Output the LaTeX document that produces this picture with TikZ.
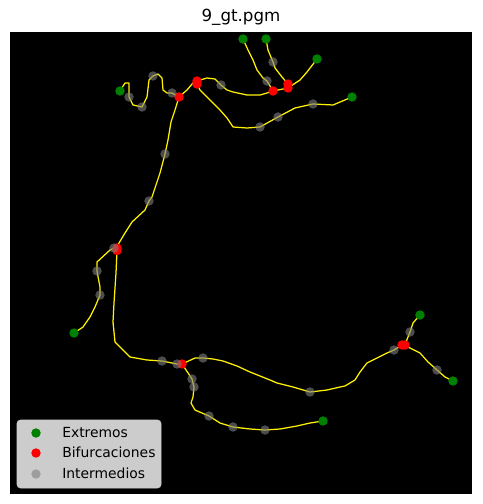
\documentclass[tikz,border=0pt]{standalone}
\usepackage{fontspec}
\setmainfont{DejaVu Sans}
\usepackage{tikz}

\definecolor{extcol}{HTML}{008000}
\definecolor{legbg}{HTML}{CCCCCC}

\tikzset{
    skel/.style={yellow, line width=0.9pt, line join=round},
    extremo/.style={circle, fill=extcol, inner sep=0pt, minimum size=6.8pt},
    bifur/.style={circle, fill=red, inner sep=0pt, minimum size=6.8pt},
    interm/.style={circle, fill=gray, fill opacity=0.6, inner sep=0pt, minimum size=6.8pt},
    legtext/.style={anchor=base west, inner sep=0pt, font=\fontsize{10}{12}\selectfont}
}

\begin{document}
\begin{tikzpicture}[x=0.72pt, y=-0.72pt]
        \useasboundingbox (0,0) rectangle (482,504);
        \fill[white] (0,0) rectangle (482,504);
        \fill[black] (10,32) rectangle (472,494);
        \node[anchor=base, inner sep=0pt, font=\fontsize{12}{14}\selectfont] (title) at (241,22) {9\_gt.pgm};

        % puntos extremos
        \coordinate (e1) at (243,39);  \coordinate (e2) at (266,39);
        \coordinate (e3) at (317,59);  \coordinate (e4) at (352,97);
        \coordinate (e5) at (120,91);  \coordinate (e6) at (74,333);
        \coordinate (e7) at (420,315); \coordinate (e8) at (453,381);
        \coordinate (e9) at (323,421);
        % bifurcaciones
        \coordinate (b1a) at (197,81);  \coordinate (b1b) at (197,84);
        \coordinate (b2) at (179,97);   \coordinate (b3) at (273,91);
        \coordinate (b4a) at (288,84);  \coordinate (b4b) at (288,88);
        \coordinate (b5a) at (117,248); \coordinate (b5b) at (117,250.5);
        \coordinate (b6) at (182,364);
        \coordinate (b7a) at (402,345); \coordinate (b7b) at (405,345);
        % intermedios
        \coordinate (g1) at (129,97);   \coordinate (g2) at (142,107);
        \coordinate (g3) at (153,76);   \coordinate (g4) at (172,93);
        \coordinate (g5) at (221,85);   \coordinate (g6) at (273,62);
        \coordinate (g7) at (267,81);   \coordinate (g8) at (313,104);
        \coordinate (g9) at (278,117);  \coordinate (g10) at (260,127);
        \coordinate (g11) at (165,154); \coordinate (g12) at (149,201);
        \coordinate (g13) at (114,248); \coordinate (g14) at (97,271);
        \coordinate (g15) at (100,295); \coordinate (g16) at (162,361);
        \coordinate (g17) at (177,364); \coordinate (g18) at (203,358);
        \coordinate (g19) at (192,379); \coordinate (g20) at (194,387);
        \coordinate (g21) at (209,416); \coordinate (g22) at (233,427);
        \coordinate (g23) at (265,430); \coordinate (g24) at (310,392);
        \coordinate (g25) at (394,350); \coordinate (g26) at (410,332);
        \coordinate (g27) at (437,370);

        % esqueleto
        \draw[skel] (e5) -- (125,83) -- (129,83) -- (g1) -- (133,105) -- (g2) -- (147,97) -- (149,80)
                    -- (g3) -- (158,74) -- (162,78) -- (163,90) -- (167,93) -- (g4) -- (b2);
        \draw[skel] (b2) -- (187,90) -- (193,83) -- (b1a);
        \draw[skel] (b1a) -- (207,78) -- (215,79) -- (g5) -- (227,90) -- (233,92) -- (247,95)
                    -- (260,95) -- (267,93) -- (b3);
        \draw[skel] (b3) -- (b4b);
        \draw[skel] (b4a) -- (282,77) -- (275,68) -- (g6) -- (268,50) -- (e2);
        \draw[skel] (b4b) -- (300,80) -- (307,72) -- (e3);
        \draw[skel] (e1) -- (248,50) -- (253,60) -- (257,70) -- (263,78) -- (g7) -- (b3);
        \draw[skel] (b1b) -- (200,90) -- (210,100) -- (220,110) -- (227,118) -- (233,127) -- (247,128)
                    -- (g10) -- (g9) -- (295,108) -- (g8) -- (333,105) -- (e4);
        \draw[skel] (b2) -- (175,110) -- (171,122) -- (168,140) -- (g11) -- (160,173) -- (152,197)
                    -- (g12) -- (145,210) -- (132,222) -- (125,233) -- (119,243) -- (b5a);
        \draw[skel] (b5b) -- (116,273) -- (114,303) -- (113,322) -- (115,342) -- (130,357) -- (147,360)
                    -- (g16) -- (g17) -- (b6);
        \draw[skel] (b5a) -- (g13) -- (110,250) -- (97,262) -- (g14) -- (100,287) -- (g15)
                    -- (95,307) -- (90,317) -- (83,327) -- (e6);
        \draw[skel] (b6) -- (195,358) -- (g18) -- (213,359) -- (223,361) -- (237,366) -- (250,372)
                    -- (260,376) -- (270,380) -- (277,383) -- (293,387) -- (g24) -- (327,390)
                    -- (340,387) -- (345,386) -- (355,380) -- (360,372) -- (367,363) -- (377,358)
                    -- (387,353) -- (g25) -- (b7a);
        \draw[skel] (b6) -- (188,373) -- (g19) -- (g20) -- (193,397) -- (191,403) -- (195,410)
                    -- (g21) -- (220,423) -- (g22) -- (250,429) -- (g23) -- (280,429) -- (297,426)
                    -- (310,423) -- (e9);
        \draw[skel] (b7b) -- (406,342) -- (g26) -- (413,323) -- (e7);
        \draw[skel] (b7b) -- (410,348) -- (420,353) -- (428,362) -- (g27) -- (445,377) -- (e8);

        \foreach \p in {e1,e2,e3,e4,e5,e6,e7,e8,e9}
            \node[extremo] (n-\p) at (\p) {};
        \foreach \p in {b1a,b1b,b2,b3,b4a,b4b,b5a,b5b,b6,b7a,b7b}
            \node[bifur] (n-\p) at (\p) {};
        \foreach \p in {1,...,27}
            \node[interm] (n-g\p) at (g\p) {};

        % leyenda
        \filldraw[fill=legbg, draw=legbg, rounded corners=2.5pt] (17,420) rectangle (161,488);
        \node[extremo] (m1) at (36,433) {};
        \node[bifur] (m2) at (36,453) {};
        \node[interm] (m3) at (36,474) {};
        \node[legtext] (t1) at (62,437.5) {Extremos};
        \node[legtext] (t2) at (62,457.8) {Bifurcaciones};
        \node[legtext] (t3) at (62,478.3) {Intermedios};
    \end{tikzpicture}
\end{document}
